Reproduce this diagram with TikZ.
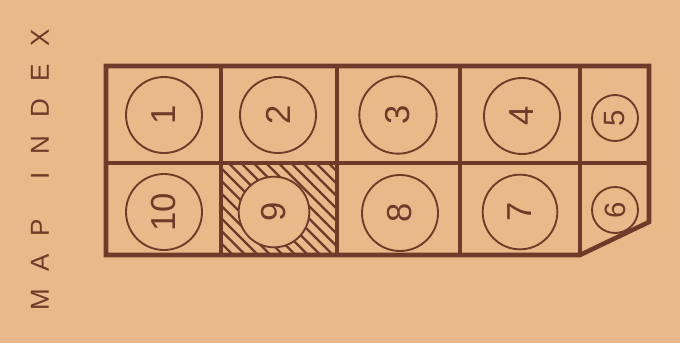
\documentclass[tikz,border=0pt]{standalone}
\usepackage{fontspec}
\setmainfont{Liberation Sans}
\newfontfamily\idxfont[LetterSpace=68]{Liberation Sans}
\begin{document}
\begin{tikzpicture}[x=0.75pt,y=-0.75pt,
  ink/.style={draw=inkc,line width=3.4pt},
  ring/.style={circle,draw=inkc,line width=1.4pt,inner sep=0pt,text=inkc,rotate=90,font=\fontsize{26}{26}\selectfont},
  smallring/.style={ring,font=\fontsize{22}{22}\selectfont}]
\definecolor{bgc}{RGB}{233,185,137}
\definecolor{inkc}{RGB}{110,58,42}
\fill[bgc] (0,0) rectangle (680,343);
\useasboundingbox (0,0) rectangle (680,343);
% title
\node[rotate=90,text=inkc,font=\idxfont\fontsize{19.5}{19.5}\selectfont] (title) at (40,170) {MAP\kern 30pt INDEX};
% hatching in cell 9
\begin{scope}[even odd rule]
  \clip (221,163) rectangle (337,255) (274,212) circle (26.5pt);
  \foreach \k in {-130,-117.5,...,130} {
    \draw[inkc,line width=1.8pt] (221+\k,163) -- ++(110,110);
  }
\end{scope}
% circles
\node[ring,minimum size=57pt] (c1) at (164,115) {1};
\node[ring,minimum size=57pt] (c2) at (278,115) {2};
\node[ring,minimum size=58pt] (c3) at (398,115) {3};
\node[ring,minimum size=57pt] (c4) at (522,116) {4};
\node[smallring,minimum size=34.5pt] (c5) at (615,118) {5};
\node[smallring,minimum size=34.5pt] (c6) at (615,210) {6};
\node[ring,minimum size=56pt] (c7) at (520,212) {7};
\node[ring,minimum size=57pt] (c8) at (400,213) {8};
\node[ring,minimum size=53pt] (c9) at (274,212) {9};
\node[ring,minimum size=57pt] (c10) at (164,212) {10};
% grid
\draw[ink,line join=miter] (580,255) -- (106,255) -- (106,66) -- (649,66) -- (649,222) -- cycle;
\draw[ink] (106,163) -- (649,163);
\foreach \x in {221,337,460,580} { \draw[ink] (\x,66) -- (\x,255); }
\end{tikzpicture}
\end{document}
